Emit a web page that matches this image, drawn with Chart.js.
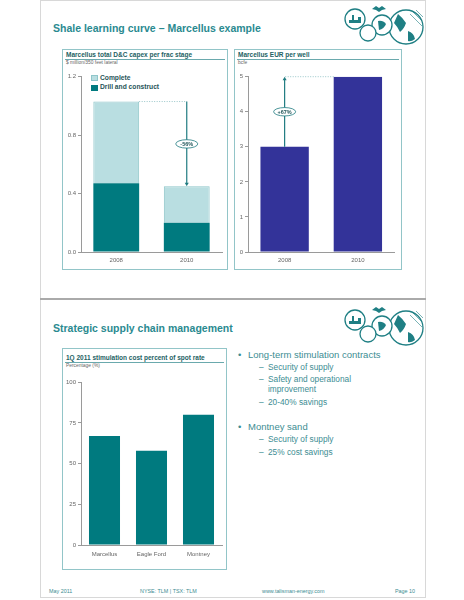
<!DOCTYPE html>
<html>
<head>
<meta charset="utf-8">
<script src="https://cdn.jsdelivr.net/npm/chart.js@4.4.1/dist/chart.umd.min.js"></script>
<style>
  body { margin: 0; background: #fff; font-family: "Liberation Sans", Arial, sans-serif; }
  .abs { position: absolute; white-space: nowrap; line-height: 1; }
  .slide { position: absolute; left: 40px; width: 384px; border-left: 1px solid #d8d8d8; border-right: 1px solid #d8d8d8; }
  .title { color: #2a8a90; font-weight: bold; font-size: 10.5px; left: 53px; }
  .box { position: absolute; border: 1.3px solid #92c5c8; box-sizing: border-box; }
  .boxTitle { color: #245f63; font-weight: bold; font-size: 6.5px; }
  .boxSub { color: #666; font-size: 4.9px; }
  .rule { position: absolute; height: 0; border-top: 1px solid #6aa9ad; }
  .legend { color: #1f5458; font-weight: bold; font-size: 6.7px; }
  .sw { position: absolute; width: 7px; height: 6px; box-sizing: border-box; }
  .b1 { color: #3d8d93; font-size: 9.5px; }
  .b2 { color: #3d8d93; font-size: 8.3px; }
  .foot { color: #3d8d93; font-size: 5.4px; }
  canvas { position: absolute; }
</style>
</head>
<body>

<div class="slide" style="top:0; height:298px; border-top:1px solid #d8d8d8;"></div>
<div style="position:absolute; left:40px; top:298px; width:386px; height:2px; background:#aaa;"></div>
<div class="slide" style="top:300px; height:297px; border-bottom:1px solid #d8d8d8;"></div>

<svg class="logo" style="position:absolute; left:340px; top:4px;" width="85" height="44" viewBox="0 0 85 44"></svg>
<svg class="logo" style="position:absolute; left:340px; top:305px;" width="85" height="44" viewBox="0 0 85 44"></svg>

<div class="abs title" style="top:23px;">Shale learning curve – Marcellus example</div>

<div class="box" style="left:62px; top:49px; width:166px; height:221px;"></div>
<div class="abs boxTitle" style="left:66px; top:51.5px;">Marcellus total D&amp;C capex per frac stage</div>
<div class="rule" style="left:65px; width:160px; top:59px;"></div>
<div class="abs boxSub" style="left:66px; top:61px;">$ million/350 feet lateral</div>

<div class="sw" style="left:91px; top:75px; background:#b9dee1; border:1px solid #8fc6ca;"></div>
<div class="abs legend" style="left:100px; top:74.6px;">Complete</div>
<div class="sw" style="left:91px; top:84.5px; background:#007a7f;"></div>
<div class="abs legend" style="left:100px; top:84.2px;">Drill and construct</div>

<div class="box" style="left:234px; top:49px; width:168px; height:221px;"></div>
<div class="abs boxTitle" style="left:238px; top:51.5px;">Marcellus EUR per well</div>
<div class="rule" style="left:237px; width:162px; top:59px;"></div>
<div class="abs boxSub" style="left:238px; top:61px;">bcfe</div>

<canvas id="capex" width="166" height="203" style="left:62px; top:66px;"></canvas>
<canvas id="eur" width="167" height="203" style="left:234px; top:66px;"></canvas>

<div class="abs title" style="top:322.5px;">Strategic supply chain management</div>

<div class="box" style="left:62px; top:348px; width:165px; height:222px;"></div>
<div class="abs boxTitle" style="left:66px; top:355px;">1Q 2011 stimulation cost percent of spot rate</div>
<div class="rule" style="left:65px; width:159px; top:361.5px;"></div>
<div class="abs boxSub" style="left:66px; top:363.5px;">Percentage (%)</div>

<canvas id="stim" width="165" height="200" style="left:62px; top:368px;"></canvas>

<div class="abs b1" style="left:238px; top:349.5px;">•</div>
<div class="abs b1" style="left:248px; top:349.5px;">Long-term stimulation contracts</div>
<div class="abs b2" style="left:259px; top:362.8px;">–</div>
<div class="abs b2" style="left:268px; top:362.8px;">Security of supply</div>
<div class="abs b2" style="left:259px; top:374.8px;">–</div>
<div class="abs b2" style="left:268px; top:374.8px;">Safety and operational</div>
<div class="abs b2" style="left:268px; top:385.2px;">improvement</div>
<div class="abs b2" style="left:259px; top:397.5px;">–</div>
<div class="abs b2" style="left:268px; top:397.5px;">20-40% savings</div>
<div class="abs b1" style="left:238px; top:422px;">•</div>
<div class="abs b1" style="left:248px; top:422px;">Montney sand</div>
<div class="abs b2" style="left:259px; top:434.8px;">–</div>
<div class="abs b2" style="left:268px; top:434.8px;">Security of supply</div>
<div class="abs b2" style="left:259px; top:447.5px;">–</div>
<div class="abs b2" style="left:268px; top:447.5px;">25% cost savings</div>

<div class="abs foot" style="left:49px; top:589px;">May 2011</div>
<div class="abs foot" style="left:140px; top:589px;">NYSE: TLM | TSX: TLM</div>
<div class="abs foot" style="left:262px; top:589px;">www.talisman-energy.com</div>
<div class="abs foot" style="left:395px; top:589px;">Page 10</div>

<script>
// chart values
const years = ['2008', '2010'];
const drillConstruct = [0.47, 0.20];
const completion = [0.56, 0.25];
const capexTicks = [0, 0.4, 0.8, 1.2];
const capexChange = '-56%';

const eurBcfe = [3, 5];
const eurTicks = [0, 1, 2, 3, 4, 5];
const eurChange = '+67%';

const basins = ['Marcellus', 'Eagle Ford', 'Montney'];
const spotPercent = [67, 58, 80];
const spotTicks = [0, 25, 50, 75, 100];

const TEAL = '#007a7f';
const LIGHT = '#b9dee1';
const NAVY = '#333399';

// logo: a few stroked circles like the corporate globe graphic
document.querySelectorAll('svg.logo').forEach(svg => {
    svg.innerHTML =
        '<g fill="#fff" stroke="#1f7f84" stroke-width="1.3">' +
        '<circle cx="66" cy="23" r="17"/>' +
        '<circle cx="42" cy="21" r="10"/>' +
        '<circle cx="28" cy="29" r="8"/>' +
        '<circle cx="15" cy="15" r="10"/>' +
        '</g>' +
        '<path d="M58 10 q5 4 8 9 q-2 6 -6 9 q-3 -6 -6 -9z M68 27 q6 2 7 8 q-4 3 -7 2z" fill="#1f7f84"/>' +
        '<path d="M38 17 q5 -1 8 3 q-2 5 -7 6z" fill="#1f7f84"/>' +
        '<path d="M9 19 h12 v-6 h-3 v3 h-4 v-5 h-2 v5 h-3z" fill="#1f7f84"/>' +
        '<path d="M32 5 l4 -3 l3 2 l3 -2 l4 3 l-4 1 l-3 2 l-3 -2z" fill="#1f7f84"/>' +
        '<path d="M72 7 l10 10 M76 6 l7 7 M70 10 l12 12" stroke="#1f7f84" stroke-width="0.6"/>';
});

// arrow, dotted guide and ellipse label between the two bar tops
const changeArrow = {
    id: 'changeArrow',
    afterDatasetsDraw(chart, args, opts) {
        const { ctx, scales: { x, y } } = chart;
        const totals = [0, 1].map(i => chart.data.datasets.reduce((s, d) => s + d.data[i], 0));
        const lastMeta = chart.getDatasetMeta(chart.data.datasets.length - 1);
        const bars = lastMeta.data;
        const ax = bars[opts.at].x;
        const y0 = y.getPixelForValue(totals[0]);
        const y1 = y.getPixelForValue(totals[1]);
        const other = 1 - opts.at;
        const otherBar = bars[other];
        const edge = other < opts.at ? otherBar.x + otherBar.width / 2 : otherBar.x - otherBar.width / 2;
        const guideY = y.getPixelForValue(totals[other]);

        ctx.save();
        ctx.strokeStyle = '#7fb8bb';
        ctx.lineWidth = 0.8;
        ctx.setLineDash([1, 1.5]);
        ctx.beginPath();
        ctx.moveTo(edge, guideY);
        ctx.lineTo(ax, guideY);
        ctx.stroke();

        ctx.setLineDash([]);
        ctx.strokeStyle = '#1f7b80';
        ctx.fillStyle = '#1f7b80';
        ctx.lineWidth = 1.2;
        const dir = y1 > y0 ? 1 : -1;
        ctx.beginPath();
        ctx.moveTo(ax, y0);
        ctx.lineTo(ax, y1 - dir * 3);
        ctx.stroke();
        ctx.beginPath();
        ctx.moveTo(ax, y1);
        ctx.lineTo(ax - 2, y1 - dir * 3.5);
        ctx.lineTo(ax + 2, y1 - dir * 3.5);
        ctx.closePath();
        ctx.fill();

        const my = (y0 + y1) / 2;
        ctx.beginPath();
        ctx.ellipse(ax, my, 11, 4.2, 0, 0, Math.PI * 2);
        ctx.fillStyle = '#fff';
        ctx.fill();
        ctx.lineWidth = 0.8;
        ctx.stroke();
        ctx.fillStyle = '#1f5458';
        ctx.font = 'bold 5.5px "Liberation Sans", Arial';
        ctx.textAlign = 'center';
        ctx.textBaseline = 'middle';
        ctx.fillText(opts.label, ax, my + 0.3);
        ctx.restore();
    }
};

const barOptions = (tickValues, fmt, yWidth, xHeight, pad, stacked, xPad) => ({
    responsive: false,
    animation: false,
    devicePixelRatio: 1,
    layout: { padding: pad },
    plugins: { legend: { display: false }, tooltip: { enabled: false } },
    scales: {
        x: {
            stacked: stacked,
            grid: { display: false, drawTicks: false },
            border: { display: true, color: '#9a9a9a', width: 1 },
            ticks: { color: '#666', padding: xPad, font: { family: '"Liberation Sans", Arial', size: 6 } },
            afterFit: (scale) => { scale.height = xHeight; }
        },
        y: {
            stacked: stacked,
            min: tickValues[0],
            max: tickValues[tickValues.length - 1],
            afterBuildTicks: (scale) => { scale.ticks = tickValues.map(v => ({ value: v })); },
            grid: { drawOnChartArea: false, drawTicks: true, tickLength: 3, color: '#9a9a9a' },
            border: { display: true, color: '#9a9a9a', width: 1 },
            ticks: {
                color: '#666',
                padding: 2,
                font: { family: '"Liberation Sans", Arial', size: 6 },
                callback: fmt
            },
            afterFit: (scale) => { scale.width = yWidth; }
        }
    }
});

const capexOpts = barOptions(capexTicks, v => v.toFixed(1), 19, 17, { top: 10.7, right: 6 }, true, 5);
capexOpts.plugins.changeArrow = { at: 1, label: capexChange };
new Chart(document.getElementById('capex'), {
    type: 'bar',
    data: {
        labels: years,
        datasets: [
            { label: 'Drill and construct', data: drillConstruct, backgroundColor: TEAL,
              categoryPercentage: 1, barPercentage: 0.65 },
            { label: 'Complete', data: completion, backgroundColor: LIGHT, borderColor: '#8fc6ca', borderWidth: 1,
              categoryPercentage: 1, barPercentage: 0.65 }
        ]
    },
    options: capexOpts,
    plugins: [changeArrow]
});

const eurOpts = barOptions(eurTicks, v => String(v), 14, 17, { top: 10.7, right: 6.5 }, false, 5);
eurOpts.plugins.changeArrow = { at: 0, label: eurChange };
new Chart(document.getElementById('eur'), {
    type: 'bar',
    data: {
        labels: years,
        datasets: [{ label: 'EUR', data: eurBcfe, backgroundColor: NAVY, categoryPercentage: 1, barPercentage: 0.66 }]
    },
    options: eurOpts,
    plugins: [changeArrow]
});

new Chart(document.getElementById('stim'), {
    type: 'bar',
    data: {
        labels: basins,
        datasets: [{ label: 'Percentage', data: spotPercent, backgroundColor: TEAL, categoryPercentage: 1, barPercentage: 0.66 }]
    },
    options: barOptions(spotTicks, v => String(v), 19, 23, { top: 14.3, right: 5 }, false, 6)
});
</script>
</body>
</html>
